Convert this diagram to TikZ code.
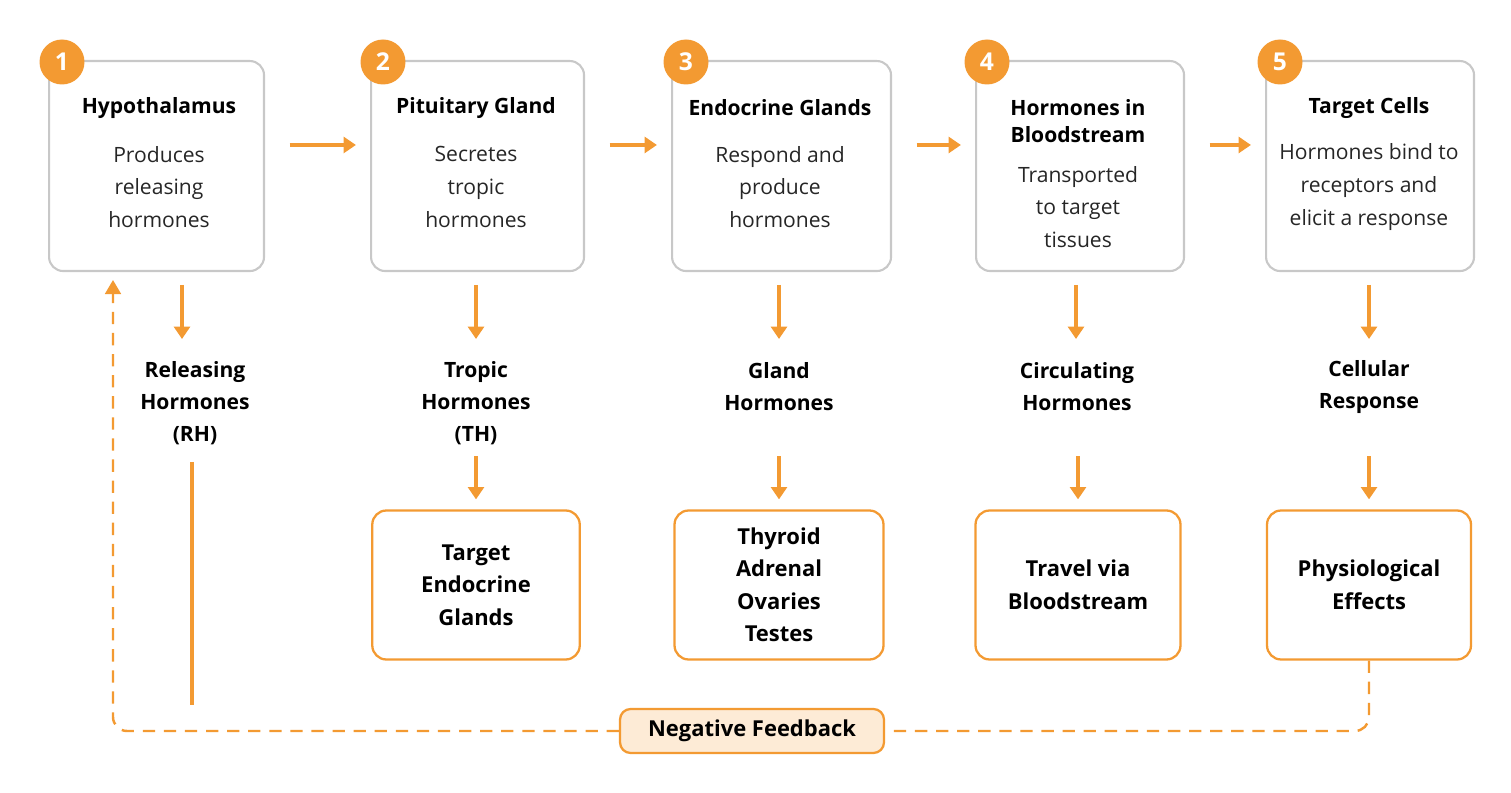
\documentclass[tikz,border=0pt]{standalone}
\usepackage{fontspec}
\setmainfont{Open Sans}
\usetikzlibrary{arrows.meta,positioning}
\definecolor{hormorange}{HTML}{F39A32}
\definecolor{boxgray}{HTML}{C8C8C8}
\definecolor{fbfill}{HTML}{FDEBD6}
\tikzset{
	stage/.style={draw=boxgray,line width=1.2pt,rounded corners=8pt,minimum width=4.3cm,minimum height=4.2cm,anchor=north west},
	result/.style={draw=hormorange,line width=1.3pt,rounded corners=8pt,minimum width=4.15cm,minimum height=2.98cm,align=center,font=\bfseries\fontsize{12.5}{18.5}\selectfont},
	badge/.style={circle,fill=hormorange,text=white,minimum size=0.9cm,inner sep=0pt,font=\bfseries\fontsize{14}{14}\selectfont},
	title/.style={align=center,font=\bfseries\fontsize{12}{15.5}\selectfont},
	descr/.style={align=center,font=\fontsize{12}{18.7}\selectfont,text=black!85},
	mid/.style={align=center,font=\bfseries\fontsize{12}{18.2}\selectfont},
	flow/.style={-{Triangle[length=7pt,width=9pt]},hormorange,line width=2pt},
	fb/.style={hormorange,line width=1.4pt,dash pattern=on 7pt off 5pt}
}
\begin{document}
\begin{tikzpicture}[x=0.02cm,y=-0.02cm]
	\useasboundingbox (0,0) rectangle (1511,793);
	% stages
	\node[stage] (s1) at (48,60) {};
	\node[stage,minimum width=4.26cm] (s2) at (370,60) {};
	\node[stage,minimum width=4.38cm] (s3) at (671,60) {};
	\node[stage,minimum width=4.16cm] (s4) at (975,60) {};
	\node[stage,minimum width=4.16cm] (s5) at (1265,60) {};
	\foreach \i/\x in {1/62,2/383,3/686,4/987,5/1280}
		\node[badge] (b\i) at (\x,62) {\i};
	\node[title] (t1) at (159,108) {Hypothalamus};
	\node[title] (t2) at (476,108) {Pituitary Gland};
	\node[title] (t3) at (780,108) {Endocrine Glands};
	\node[title] (t4) at (1078,121) {Hormones in\\Bloodstream};
	\node[title] (t5) at (1369,108) {Target Cells};
	\node[descr] (d1) at (159,187) {Produces\\releasing\\hormones};
	\node[descr] (d2) at (476,187) {Secretes\\tropic\\hormones};
	\node[descr] (d3) at (780,187) {Respond and\\produce\\hormones};
	\node[descr] (d4) at (1078,207) {Transported\\to target\\tissues};
	\node[descr] (d5) at (1369,187) {Hormones bind to\\receptors and\\elicit a response};
	% flow between stages
	\foreach \a/\b in {1/2,2/3,3/4,4/5}
		\draw[flow] ([xshift=14pt,yshift=-1.7cm]s\a.north east) -- ([xshift=-8pt,yshift=-1.7cm]s\b.north west);
	% middle labels
	\node[mid] (m1) at (195,403) {Releasing\\Hormones\\(RH)};
	\node[mid] (m2) at (476,403) {Tropic\\Hormones\\(TH)};
	\node[mid] (m3) at (779,387) {Gland\\Hormones};
	\node[mid] (m4) at (1077,387) {Circulating\\Hormones};
	\node[mid] (m5) at (1369,387) {Cellular\\Response};
	\coordinate (a1) at (182,285);
	\coordinate (a2) at (476,285);
	\coordinate (a3) at (779,285);
	\coordinate (a4) at (1076,285);
	\coordinate (a5) at (1369,285);
	\foreach \i in {1,...,5}
		\draw[flow] (a\i) -- ++(0,54);
	% results
	\node[result] (r2) at (476,585) {Target\\Endocrine\\Glands};
	\node[result,minimum width=4.18cm] (r3) at (779,585) {Thyroid\\Adrenal\\Ovaries\\Testes};
	\node[result,minimum width=4.1cm] (r4) at (1078,585) {Travel via\\Bloodstream};
	\node[result,minimum width=4.08cm] (r5) at (1369,585) {Physiological\\Effects};
	\foreach \i in {2,...,5}
		\draw[flow] ([yshift=1.06cm]r\i.north) -- ([yshift=0.2cm]r\i.north);
	\coordinate (rh) at (192,462);
	\coordinate (rhend) at (192,705);
	\draw[hormorange,line width=1.8pt] (rh) -- (rhend);
	% negative feedback
	\node[draw=hormorange,fill=fbfill,line width=1.3pt,rounded corners=6pt,minimum width=5.28cm,minimum height=0.88cm,font=\bfseries\fontsize{12.5}{14}\selectfont] (fb) at (752,731) {Negative Feedback};
	\coordinate (fbin) at (113,280);
	\draw[fb,rounded corners=8pt] (r5.south) |- (fb.east);
	\draw[fb,rounded corners=8pt,-{Triangle[length=8pt,width=9pt]}] (fb.west) -| (fbin);
\end{tikzpicture}
\end{document}
